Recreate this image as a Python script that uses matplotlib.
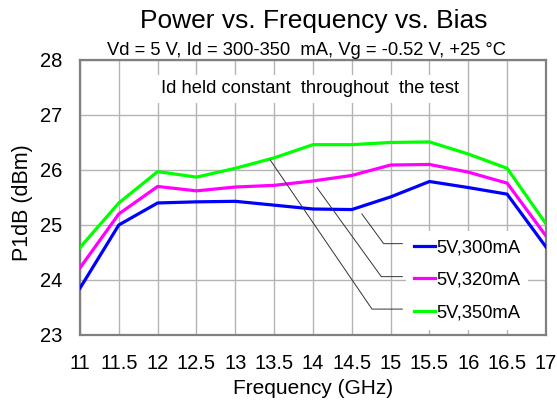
import matplotlib
matplotlib.use('Agg')
import matplotlib.pyplot as plt

freq = [11, 11.5, 12, 12.5, 13, 13.5, 14, 14.5, 15, 15.5, 16, 16.5, 17]
p1db_300 = [23.85, 25.0, 25.4, 25.42, 25.43, 25.36, 25.29, 25.28, 25.51, 25.79, 25.68, 25.56, 24.6]
p1db_320 = [24.22, 25.2, 25.7, 25.62, 25.69, 25.72, 25.8, 25.9, 26.09, 26.1, 25.96, 25.76, 24.8]
p1db_350 = [24.59, 25.4, 25.97, 25.87, 26.03, 26.22, 26.46, 26.46, 26.5, 26.51, 26.29, 26.03, 25.02]
labels = ['5V,300mA', '5V,320mA', '5V,350mA']
colors = ['#0000ff', '#ff00ff', '#00ff00']
xticks = [11, 11.5, 12, 12.5, 13, 13.5, 14, 14.5, 15, 15.5, 16, 16.5, 17]
xticklabels = ['11', '11.5', '12', '12.5', '13', '13.5', '14', '14.5', '15', '15.5', '16', '16.5', '17']

# leader lines from each curve to its legend entry: (start, corner, end)
leaders = [
    [(14.63, 25.2), (14.91, 24.66), (15.15, 24.66)],
    [(14.05, 25.68), (14.88, 24.06), (15.15, 24.06)],
    [(13.45, 26.18), (14.76, 23.47), (15.15, 23.47)],
]

plt.rcParams['font.family'] = ['Liberation Sans', 'DejaVu Sans']

fig = plt.figure(figsize=(5.57, 4.13), dpi=100)
ax = fig.add_axes([0.1436, 0.189, 0.8366, 0.6658])

for y, lab, c in zip([p1db_300, p1db_320, p1db_350], labels, colors):
    ax.plot(freq, y, color=c, lw=2.3, label=lab, zorder=3)

for pts in leaders:
    xs = [p[0] for p in pts]
    ys = [p[1] for p in pts]
    ax.plot(xs, ys, color='#333333', lw=0.7, zorder=4)

ax.set_xlim(11, 17)
ax.set_ylim(23, 28)
ax.set_xticks(xticks)
ax.set_xticklabels(xticklabels)
ax.set_yticks([23, 24, 25, 26, 27, 28])
ax.tick_params(length=0, labelsize=14.5, pad=13)
ax.tick_params(axis='x', pad=14)
ax.grid(True, color='#b4b4b4', lw=1)
ax.set_axisbelow(True)
for s in ax.spines.values():
    s.set_color('#808080')
    s.set_linewidth(1.6)

ax.set_xlabel('Frequency (GHz)', fontsize=15, labelpad=4)
ax.set_ylabel('P1dB (dBm)', fontsize=15.5, labelpad=5)
ax.yaxis.label.set_y(0.482)

ax.text(13.96, 27.395, 'Id held constant  throughout  the test', fontsize=13.2,
        ha='center', va='baseline', zorder=5,
        bbox=dict(facecolor='white', edgecolor='none', pad=4))

fig.text(0.563, 0.932, 'Power vs. Frequency vs. Bias', fontsize=19,
         ha='center', va='baseline')
fig.text(0.551, 0.867, 'Vd = 5 V, Id = 300-350  mA, Vg = -0.52 V, +25 °C',
         fontsize=13.2, ha='center', va='baseline')

leg = ax.legend(loc='center left', bbox_to_anchor=(0.699, 0.199), fontsize=13.2,
                frameon=True, fancybox=False, handlelength=1.15,
                handletextpad=0.05, labelspacing=0.85, borderaxespad=0,
                borderpad=0.45)
leg.get_frame().set_facecolor('white')
leg.get_frame().set_edgecolor('none')
leg.get_frame().set_alpha(1)
leg.set_zorder(6)

fig.savefig('out.png', dpi=100)
